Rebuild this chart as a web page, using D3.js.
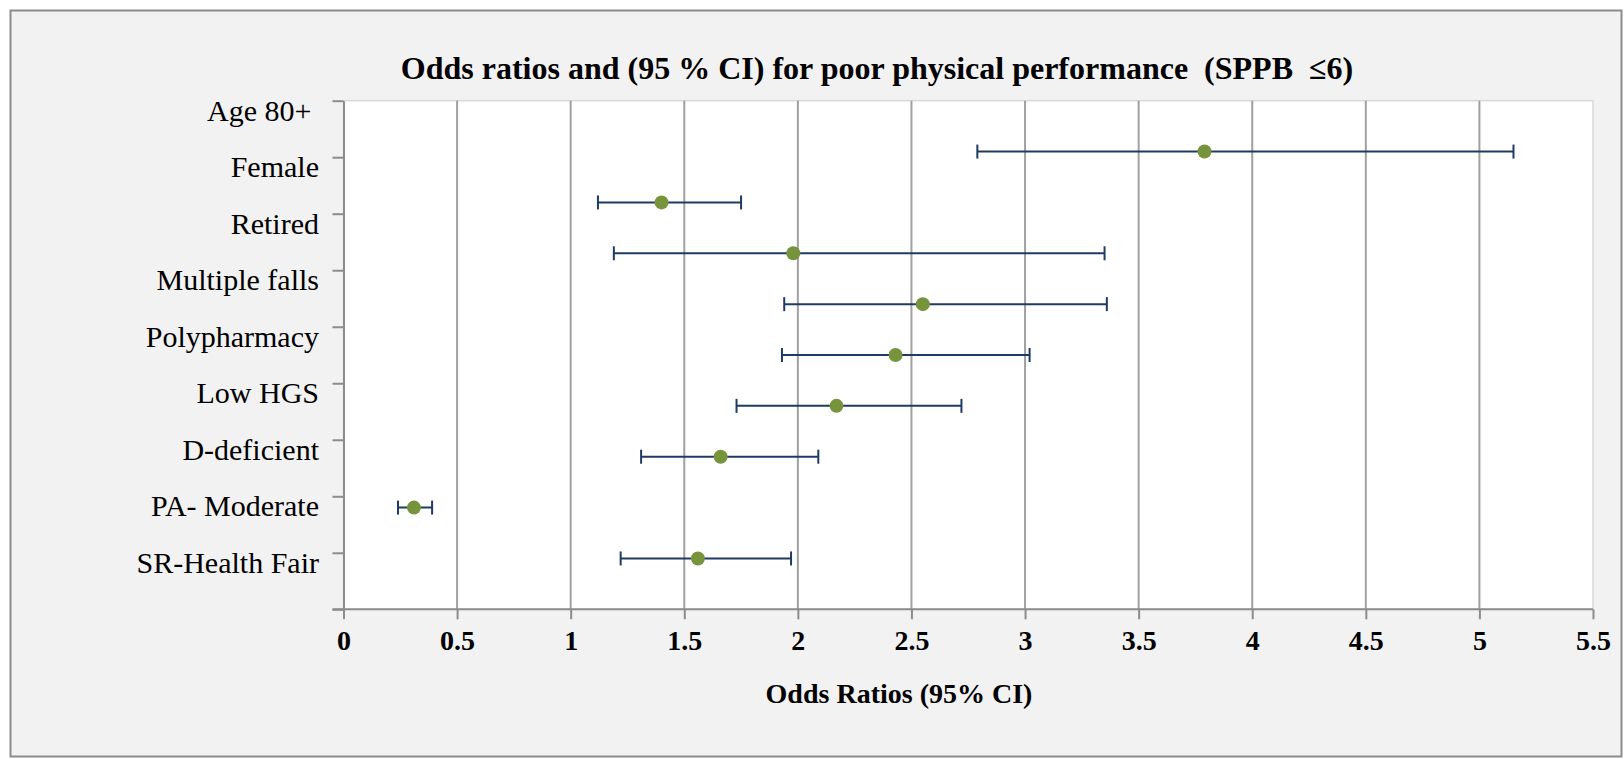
<!DOCTYPE html>
<html>
<head>
<meta charset="utf-8">
<script src="https://cdn.jsdelivr.net/npm/d3@7"></script>
<style>
  html, body { margin: 0; padding: 0; background: #ffffff; }
  svg text { font-family: "Liberation Serif", "Times New Roman", serif; fill: #000; }
</style>
</head>
<body>
<div id="chart"></div>
<script>
// Row labels (left side) and the odds ratio points with their 95% CI
var categories = ["Age 80+ ", "Female", "Retired", "Multiple falls", "Polypharmacy",
                  "Low HGS", "D-deficient", "PA- Moderate", "SR-Health Fair"];
var oddsRatio = [3.79, 1.40, 1.98, 2.55, 2.43, 2.17, 1.66, 0.31, 1.56];
var ciLow     = [2.79, 1.12, 1.19, 1.94, 1.93, 1.73, 1.31, 0.24, 1.22];
var ciHigh    = [5.15, 1.75, 3.35, 3.36, 3.02, 2.72, 2.09, 0.39, 1.97];
// vertical position of each point on the 0..10 value axis
var rowPos    = [9, 8, 7, 6, 5, 4, 3, 2, 1];
var xTicks    = [0, 0.5, 1, 1.5, 2, 2.5, 3, 3.5, 4, 4.5, 5, 5.5];

var title = "Odds ratios and (95 % CI) for poor physical performance  (SPPB  \u22646)";
var xTitle = "Odds Ratios (95% CI)";

var W = 1624, H = 759;
var plot = {left: 343.5, right: 1593, top: 100.7, bottom: 609.3};

var svg = d3.select("#chart").append("svg")
    .attr("width", W)
    .attr("height", H);

// chart area
svg.append("rect")
    .attr("x", 10.5).attr("y", 10.5)
    .attr("width", 1611).attr("height", 746)
    .attr("fill", "#f2f2f2")
    .attr("stroke", "#8c8c8c")
    .attr("stroke-width", 2);

// plot area
svg.append("rect")
    .attr("x", plot.left).attr("y", plot.top)
    .attr("width", plot.right - plot.left)
    .attr("height", plot.bottom - plot.top)
    .attr("fill", "#ffffff")
    .attr("stroke", "#d9d9d9")
    .attr("stroke-width", 1.5);

var x = d3.scaleLinear().domain([0, 5.5]).range([plot.left, plot.right]);
var y = d3.scaleLinear().domain([0, 10]).range([plot.bottom, plot.top]);
var yCat = d3.scaleLinear().domain([0, categories.length]).range([plot.top, plot.bottom]);

// vertical gridlines
svg.append("g").selectAll("line")
    .data(xTicks.filter(function(d) { return d > 0 && d < 5.5; }))
    .enter().append("line")
    .attr("x1", function(d) { return x(d); })
    .attr("x2", function(d) { return x(d); })
    .attr("y1", plot.top)
    .attr("y2", plot.bottom)
    .attr("stroke", "#a0a0a0")
    .attr("stroke-width", 2);

// x axis
var xAxis = svg.append("g")
    .attr("transform", "translate(0," + plot.bottom + ")")
    .call(d3.axisBottom(x).tickValues(xTicks).tickSize(10).tickSizeOuter(0)
      .tickFormat(function(d) { return String(d); }));
xAxis.select(".domain").remove();
xAxis.append("line")
    .attr("x1", plot.left - 11).attr("x2", plot.right)
    .attr("stroke", "#8c8c8c").attr("stroke-width", 2);
xAxis.selectAll(".tick line").attr("stroke", "#8c8c8c").attr("stroke-width", 2);
xAxis.selectAll(".tick text")
    .attr("y", 41)
    .attr("dy", null)
    .style("font-family", '"Liberation Serif", "Times New Roman", serif')
    .style("font-size", "28px")
    .style("font-weight", "bold")
    .attr("fill", "#000");

// y axis: tick marks between the rows
var yAxis = svg.append("g")
    .attr("transform", "translate(" + plot.left + ",0)")
    .call(d3.axisLeft(yCat).tickValues(d3.range(categories.length + 1)).tickSize(11)
      .tickSizeOuter(0).tickFormat(""));
yAxis.select(".domain").attr("stroke", "#8c8c8c").attr("stroke-width", 2);
yAxis.selectAll(".tick line").attr("stroke", "#8c8c8c").attr("stroke-width", 2);

// row labels
svg.append("g").selectAll("text")
    .data(categories)
    .enter().append("text")
    .attr("x", 319)
    .attr("y", function(d, i) { return yCat(i) + 20; })
    .attr("text-anchor", "end")
    .style("white-space", "pre")
    .style("font-size", "30px")
    .text(function(d) { return d; });

// error bars
var bars = svg.append("g").selectAll("g")
    .data(oddsRatio.map(function(d, i) {
      return {or: d, lo: ciLow[i], hi: ciHigh[i], pos: rowPos[i]};
    }))
    .enter().append("g");

bars.append("line")
    .attr("x1", function(d) { return x(d.lo); })
    .attr("x2", function(d) { return x(d.hi); })
    .attr("y1", function(d) { return y(d.pos); })
    .attr("y2", function(d) { return y(d.pos); })
    .attr("stroke", "#1f3b63")
    .attr("stroke-width", 2);

["lo", "hi"].forEach(function(k) {
  bars.append("line")
      .attr("x1", function(d) { return x(d[k]); })
      .attr("x2", function(d) { return x(d[k]); })
      .attr("y1", function(d) { return y(d.pos) - 7; })
      .attr("y2", function(d) { return y(d.pos) + 7; })
      .attr("stroke", "#1f3b63")
      .attr("stroke-width", 2);
});

bars.append("circle")
    .attr("cx", function(d) { return x(d.or); })
    .attr("cy", function(d) { return y(d.pos); })
    .attr("r", 7)
    .attr("fill", "#77933c");

// titles
svg.append("text")
    .attr("x", 877).attr("y", 79)
    .attr("text-anchor", "middle")
    .style("white-space", "pre")
    .style("font-size", "32px")
    .style("font-weight", "bold")
    .text(title);

svg.append("text")
    .attr("x", 899).attr("y", 703)
    .attr("text-anchor", "middle")
    .style("font-size", "28px")
    .style("font-weight", "bold")
    .text(xTitle);
</script>
</body>
</html>
